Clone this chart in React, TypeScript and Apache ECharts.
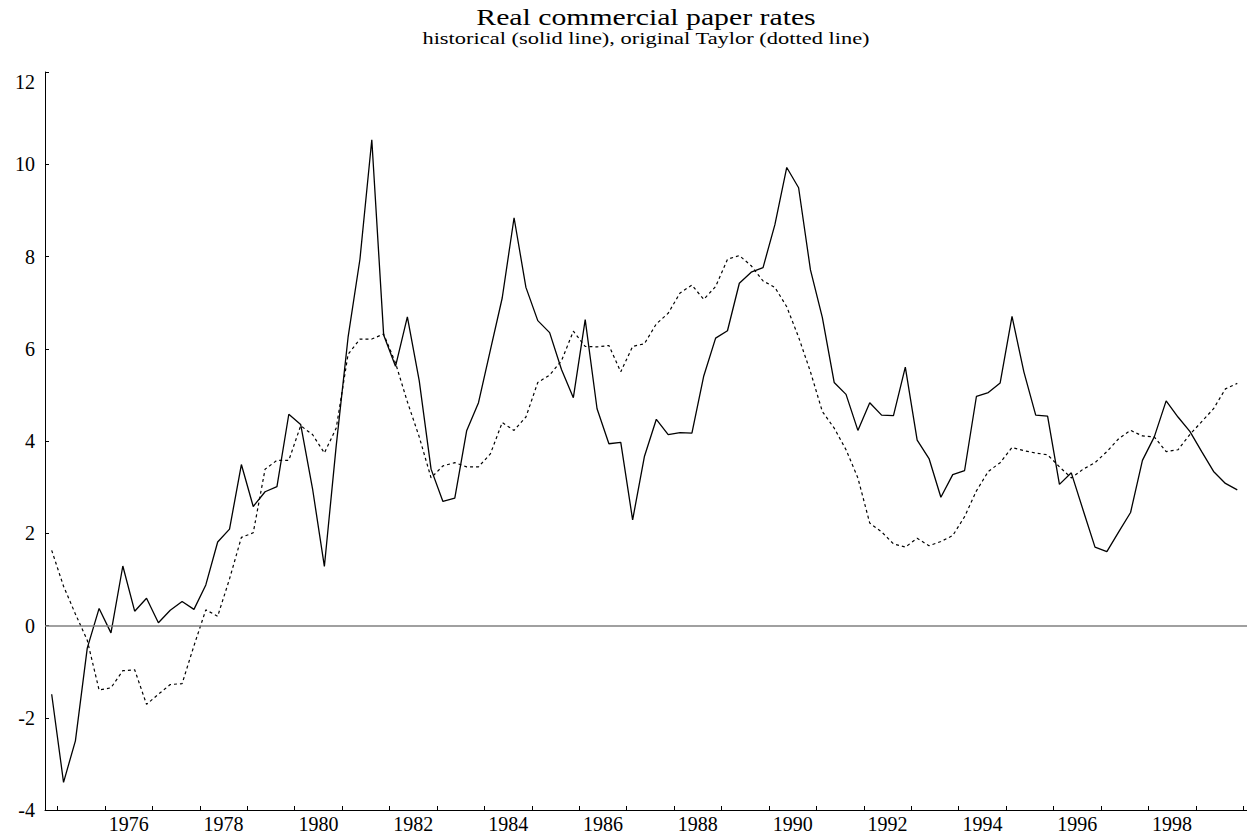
import React, { useEffect, useRef } from 'react';
import * as echarts from 'echarts';

// First observation: 1974 Q4, quarterly through 1999 Q4
const START_YEAR = 1974;
const START_QUARTER = 4;

// Real commercial paper rate, historical (solid line)
const historical = [
  -1.49, -3.40, -2.50, -0.49, 0.37, -0.16, 1.29, 0.31, 0.59, 0.06,
  0.33, 0.52, 0.35, 0.88, 1.81, 2.09, 3.49, 2.58, 2.90, 3.01,
  4.58, 4.36, 2.97, 1.28, 3.90, 6.25, 7.94, 10.53, 6.30, 5.62,
  6.69, 5.31, 3.39, 2.69, 2.76, 4.22, 4.83, 5.97, 7.10, 8.84,
  7.33, 6.61, 6.35, 5.55, 4.94, 6.63, 4.70, 3.94, 3.97, 2.29,
  3.67, 4.47, 4.14, 4.18, 4.17, 5.41, 6.23, 6.39, 7.42, 7.66,
  7.76, 8.69, 9.93, 9.49, 7.71, 6.68, 5.27, 5.01, 4.23, 4.83,
  4.56, 4.55, 5.60, 4.02, 3.62, 2.78, 3.27, 3.36, 4.97, 5.05,
  5.26, 6.70, 5.50, 4.56, 4.54, 3.06, 3.31, 2.50, 1.70, 1.60,
  2.03, 2.45, 3.58, 4.09, 4.87, 4.52, 4.21, 3.77, 3.34, 3.08,
  2.94,
];

// Original Taylor rule (dotted line)
const taylor = [
  1.63, 0.85, 0.25, -0.32, -1.40, -1.35, -0.98, -0.96, -1.71, -1.49,
  -1.28, -1.26, -0.44, 0.34, 0.20, 1.01, 1.91, 2.01, 3.39, 3.58,
  3.58, 4.33, 4.14, 3.74, 4.28, 5.88, 6.21, 6.21, 6.32, 5.69,
  4.85, 4.09, 3.20, 3.46, 3.53, 3.44, 3.44, 3.72, 4.40, 4.23,
  4.52, 5.27, 5.43, 5.74, 6.38, 6.05, 6.04, 6.07, 5.50, 6.05,
  6.11, 6.54, 6.77, 7.21, 7.38, 7.07, 7.35, 7.94, 8.02, 7.80,
  7.47, 7.33, 6.91, 6.25, 5.50, 4.64, 4.28, 3.81, 3.20, 2.22,
  2.03, 1.77, 1.70, 1.89, 1.73, 1.82, 1.95, 2.36, 2.92, 3.34,
  3.53, 3.86, 3.79, 3.74, 3.70, 3.44, 3.20, 3.39, 3.53, 3.77,
  4.05, 4.23, 4.11, 4.09, 3.77, 3.81, 4.14, 4.42, 4.70, 5.13,
  5.25,
];

const xTickYears = [
  1975, 1976, 1977, 1978, 1979, 1980, 1981, 1982, 1983, 1984, 1985, 1986, 1987,
  1988, 1989, 1990, 1991, 1992, 1993, 1994, 1995, 1996, 1997, 1998, 1999, 2000,
];
const xLabelYears = [1976, 1978, 1980, 1982, 1984, 1986, 1988, 1990, 1992, 1994, 1996, 1998];
const yMin = -4;
const yMax = 12;
const yStep = 2;

const quarters: string[] = historical.map((_, i) => {
  const q = START_QUARTER - 1 + i;
  return `${START_YEAR + Math.floor(q / 4)}Q${(q % 4) + 1}`;
});
const quarterTime = (label: string) => {
  const [y, q] = label.split('Q').map(Number);
  return y + (q - 0.5) / 4;
};

const FONT = '"Liberation Serif", "Times New Roman", serif';

export default function App() {
  const ref = useRef<HTMLDivElement>(null);
  useEffect(() => {
    if (!ref.current) return;
    const chart = echarts.init(ref.current, undefined, { renderer: 'svg' });
    chart.setOption({
      animation: false,
      backgroundColor: '#fff',
      grid: { left: 45, right: 0, top: 72, bottom: 25, containLabel: false, outerBoundsMode: 'none' },
      graphic: [
        {
          type: 'text',
          x: 646,
          y: 17,
          scaleX: 1.24,
          style: {
            text: 'Real commercial paper rates',
            font: `24px ${FONT}`,
            fill: '#000',
            textAlign: 'center',
            textVerticalAlign: 'middle',
          },
        },
        {
          type: 'text',
          x: 646,
          y: 38,
          scaleX: 1.36,
          style: {
            text: 'historical (solid line), original Taylor (dotted line)',
            font: `16.5px ${FONT}`,
            fill: '#000',
            textAlign: 'center',
            textVerticalAlign: 'middle',
          },
        },
      ],
      xAxis: {
        type: 'value',
        min: 1974.734,
        max: 2000.08,
        splitLine: { show: false },
        axisLine: { show: true, onZero: false, lineStyle: { color: '#000', width: 1 } },
        axisTick: {
          show: true,
          inside: true,
          length: 4,
          customValues: xTickYears,
          lineStyle: { color: '#000', width: 1 },
        },
        axisLabel: {
          customValues: xLabelYears.map((y) => y + 0.5),
          formatter: (v: number) => String(Math.floor(v)),
          fontFamily: FONT,
          fontSize: 20,
          color: '#000',
          margin: 4,
        },
      },
      yAxis: {
        type: 'value',
        min: yMin,
        max: yMax,
        interval: yStep,
        splitLine: { show: false },
        axisLine: { show: true, onZero: false, lineStyle: { color: '#000', width: 1 } },
        axisTick: { show: true, inside: true, length: 4, lineStyle: { color: '#000', width: 1 } },
        axisLabel: {
          fontFamily: FONT,
          fontSize: 20,
          color: '#000',
          margin: 10,
          verticalAlignMaxLabel: 'top',
        },
      },
      series: [
        {
          name: 'historical',
          type: 'line',
          data: quarters.map((q, i) => [quarterTime(q), historical[i]]),
          showSymbol: false,
          symbol: 'none',
          lineStyle: { color: '#000', width: 1.3, type: 'solid' },
          z: 3,
          markLine: {
            silent: true,
            symbol: ['none', 'none'],
            label: { show: false },
            lineStyle: { color: '#808080', width: 1.5, type: 'solid' },
            data: [{ yAxis: 0 }],
          },
        },
        {
          name: 'taylor',
          type: 'line',
          data: quarters.map((q, i) => [quarterTime(q), taylor[i]]),
          showSymbol: false,
          symbol: 'none',
          lineStyle: { color: '#000', width: 1.2, type: [3, 3] },
          z: 2,
        },
      ],
    });
    return () => chart.dispose();
  }, []);
  return (
    <div
      ref={ref}
      style={{ position: 'absolute', left: 0, top: 0, width: 1247, height: 835, background: '#fff' }}
    />
  );
}
